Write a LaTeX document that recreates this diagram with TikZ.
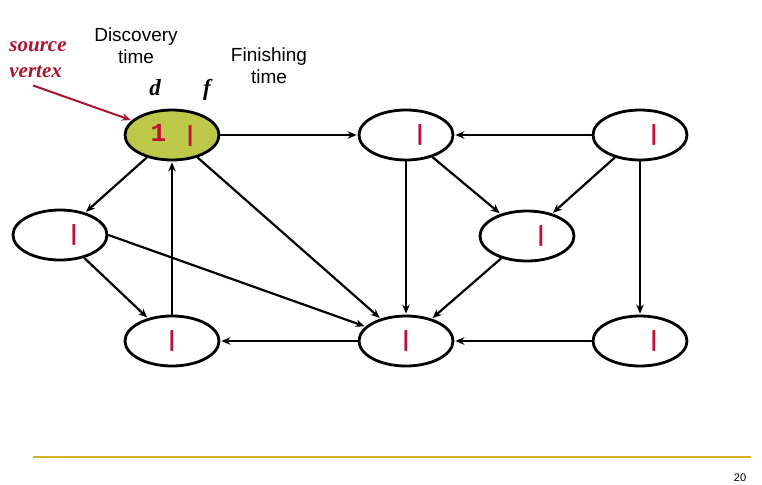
\documentclass[tikz,border=0pt]{standalone}
\usepackage{fontspec}
\setmainfont{Liberation Serif}
\setsansfont{Liberation Sans}
\setmonofont{Liberation Mono}
\usetikzlibrary{arrows.meta,positioning,shapes.geometric}

\definecolor{dfsred}{RGB}{192,16,58}
\definecolor{srcred}{RGB}{170,20,45}
\definecolor{olive}{RGB}{190,200,72}
\definecolor{rulegold}{RGB}{214,176,40}

\newcommand{\fbar}{{\fontsize{22}{22}\sffamily\bfseries|}}

\tikzset{
  vertex/.style={ellipse, draw, line width=2.8pt, minimum width=94pt, minimum height=50pt,
    inner sep=0pt, font=\fontsize{26}{26}\ttfamily\bfseries, text=dfsred},
  source/.style={vertex, fill=olive},
  caption/.style={font=\fontsize{19}{22}\sffamily, align=center},
  dflabel/.style={font=\fontsize{23}{23}\rmfamily\bfseries\itshape}
}

\begin{document}
\begin{tikzpicture}[x=1pt,y=-1pt,>={Stealth[length=9pt,width=7.5pt]},line width=2.2pt,shorten >=1pt]
    \useasboundingbox (0,0) rectangle (762,484);

    \node[source] (s) at (172,135) {1\hspace{21pt}\fbar};
    \node[vertex] (a) at (406,135) {\hspace{28pt}\fbar};
    \node[vertex] (b) at (640,135) {\hspace{28pt}\fbar};
    \node[vertex] (c) at (60,235)  {\hspace{28pt}\fbar};
    \node[vertex] (e) at (527,236) {\hspace{28pt}\fbar};
    \node[vertex] (g) at (172,341) {\fbar};
    \node[vertex] (h) at (406,341) {\fbar};
    \node[vertex] (i) at (640,341) {\hspace{28pt}\fbar};

    \path[->]
    (s) edge (a)
    (s) edge (c)
    (s) edge (h)
    (g) edge (s)
    (c) edge (g)
    (c.east) edge (h)
    (h) edge (g)
    (a) edge (h)
    (a) edge (e)
    (b) edge (a)
    (b) edge (e)
    (b) edge (i)
    (e) edge (h)
    (i) edge (h)
    ;

    % labels
    \node[caption] (disc) at (136,46) {Discovery\\time};
    \node[caption] (fin)  at (269,66) {Finishing\\time};
    \node[dflabel] (d) at (155,88) {d};
    \node[dflabel] (f) at (207,90) {f};
    \node[dflabel, text=srcred, align=left, font=\fontsize{21}{26}\rmfamily\bfseries\itshape]
      (srclabel) at (38,60) {source\\vertex};
    \draw[->, srcred, line width=2pt] ([xshift=-5pt,yshift=-3pt]srclabel.south) -- (s.160);

    % footer
    \draw[rulegold, line width=2pt] (33,457) -- (752,457);
    \node[font=\fontsize{11}{11}\sffamily] (page) at (740,478) {20};
\end{tikzpicture}
\end{document}
